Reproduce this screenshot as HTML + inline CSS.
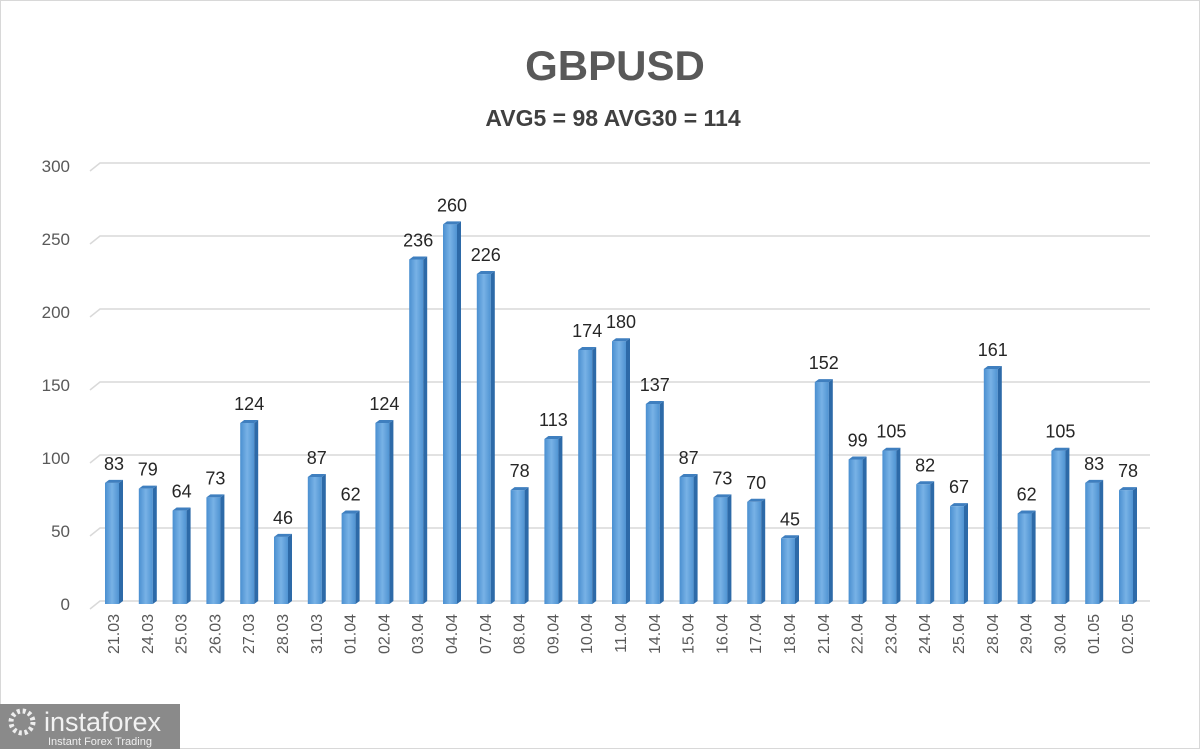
<!DOCTYPE html>
<html><head><meta charset="utf-8"><style>
body{margin:0;background:#fff;width:1200px;height:749px;overflow:hidden;font-family:"Liberation Sans",sans-serif}
svg{display:block}
</style></head><body>
<svg id="chart" width="1200" height="749">
<defs>
<linearGradient id="gf" x1="0" x2="1" y1="0" y2="0"><stop offset="0" stop-color="#4a8fd0"/><stop offset="0.5" stop-color="#78b2e6"/><stop offset="1" stop-color="#4f93d2"/></linearGradient>
</defs>
<rect x="0.5" y="0.5" width="1199" height="748" fill="#fff" stroke="#d8d8d8"/>
<text x="615" y="80" text-anchor="middle" font-size="42" font-weight="bold" fill="#595959">GBPUSD</text>
<text x="613" y="126" text-anchor="middle" font-size="23" font-weight="bold" fill="#404040">AVG5 = 98 AVG30 = 114</text>
<g id="grid"></g><g id="bars"></g>
<g>
<rect x="0" y="704" width="180" height="45" fill="#8a8a8a"/>
<circle cx="22" cy="722" r="11" fill="none" stroke="#eee" stroke-width="5" stroke-dasharray="3 2.8"/>
<text x="44" y="731" font-size="27" fill="#f2f2f2">instaforex</text>
<text x="48" y="745" font-size="11" fill="#eee">Instant Forex Trading</text>
</g>
</svg>
<script>
const categories=["21.03","24.03","25.03","26.03","27.03","28.03","31.03","01.04","02.04","03.04","04.04","07.04","08.04","09.04","10.04","11.04","14.04","15.04","16.04","17.04","18.04","21.04","22.04","23.04","24.04","25.04","28.04","29.04","30.04","01.05","02.05"].slice(0);
const values=[83,79,64,73,124,46,87,62,124,236,260,226,78,113,174,180,137,87,73,70,45,152,99,105,82,67,161,62,105,83,78];
const yTicks=[0,50,100,150,200,250,300];
const NS="http://www.w3.org/2000/svg";
const x0=113, step=(1127-113)/(categories.length-1);
const y=v=>604-v*(438/300);
const x=i=>x0+i*step;
function mk(tag,attrs,parent,txt){const e=document.createElementNS(NS,tag);for(const k in attrs)e.setAttribute(k,attrs[k]);if(txt!==undefined)e.textContent=txt;parent.appendChild(e);return e;}
const grid=document.getElementById('grid'), bars=document.getElementById('bars');
yTicks.forEach(t=>{
 const l=mk('path',{d:`M90 ${y(t)+5} L100 ${y(t)-3} L1150 ${y(t)-3}`,stroke:'#d9d9d9','stroke-width':1.5,fill:'none'},grid);
 
 
 const tx=mk('text',{x:70,y:y(t)+6,'text-anchor':'end','font-size':17,fill:'#595959'},grid,String(t));
 
 
});
categories.forEach((c,i)=>{
 const v=values[i], cx=x(i), top=y(v), w=14;
 const g=mk('g',{},bars);
 
 
 mk('rect',{x:cx-8,y:top,width:w,height:604-top,fill:'url(#gf)'},g);
 mk('path',{d:`M${cx+6} ${top} L${cx+10} ${top-3} L${cx+10} ${601} L${cx+6} ${604} Z`,fill:'#2d6aa8'},g);
 mk('path',{d:`M${cx-8} ${top} L${cx-4} ${top-3} L${cx+10} ${top-3} L${cx+6} ${top} Z`,fill:'#3f7fbf'},g);
 const lb=mk('text',{x:cx+1,y:top-13,'text-anchor':'middle','font-size':18,fill:'#262626'},g,String(v));
 
 
 const dl=mk('text',{x:0,y:0,'text-anchor':'end','font-size':16,fill:'#595959',transform:`translate(${cx+6},614) rotate(-90)`},g,c);
 
 
});
</script>
</body></html>
